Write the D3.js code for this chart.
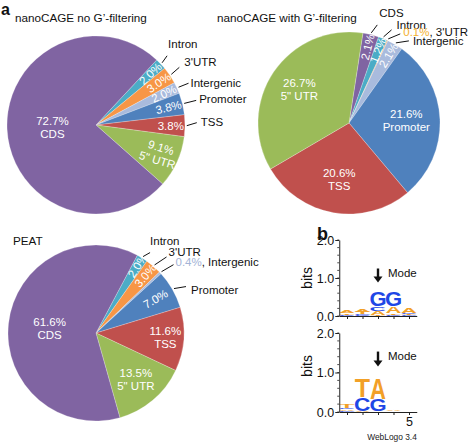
<!DOCTYPE html>
<html><head><meta charset="utf-8">
<script src="https://cdn.jsdelivr.net/npm/d3@7"></script>
<style>
html,body{margin:0;padding:0;background:#fff;}
svg{display:block;font-family:'Liberation Sans',Arial,Helvetica,sans-serif;}
</style></head><body>
<svg id="chart" width="472" height="443"></svg>
<script>
// ---------------- DATA ----------------
const pie1Categories = ["Intron","3'UTR","Intergenic","Promoter","TSS","5\" UTR","CDS"];
const pie1Values     = [2.0, 3.0, 2.0, 3.8, 3.8, 9.1, 72.7];
const pie2Categories = ["CDS","Intron","3'UTR","Intergenic","Promoter","TSS","5\" UTR"];
const pie2Values     = [2.1, 1.2, 0.1, 2.1, 21.6, 20.6, 26.7];
const pie3Categories = ["Intron","3'UTR","Intergenic","Promoter","TSS","5\" UTR","CDS"];
const pie3Values     = [2.0, 3.0, 0.4, 7.0, 11.6, 13.5, 61.6];
const pieTitles = ["nanoCAGE no G\u2019-filtering","nanoCAGE with G\u2019-filtering","PEAT"];

// sequence logos (bits per base, positions 1..5)
const logoPositions = [1,2,3,4,5];
const logo1A = [0.06, 0.07, 0.11, 0.18, 0.12];
const logo1C = [0.02, 0.02, 0.11, 0.03, 0.03];
const logo1G = [0.01, 0.02, 0.38, 0.38, 0.02];
const logo1T = [0.04, 0.06, 0.03, 0.04, 0.02];
const logo2A = [0.04, 0.02, 0.53, 0.02, 0.01];
const logo2C = [0.04, 0.34, 0.01, 0.01, 0.01];
const logo2G = [0.03, 0.01, 0.30, 0.01, 0.01];
const logo2T = [0.08, 0.46, 0.01, 0.01, 0.01];
const yTickValues = [0, 1, 2];
const yTickLabels = ["0.0","1.0","2.0"];
const logo2XTickLabels = ["","","","","5"];

// ---------------- STYLE / LAYOUT ----------------
const colorMap = {"CDS":"#8064a2","Intron":"#4bacc6","3'UTR":"#f79646","Intergenic":"#a9bbdd",
  "Promoter":"#4f81bd","TSS":"#c0504d","5\" UTR":"#9bbb59"};
const baseColor = {A:"#f2a027", T:"#f2a027", G:"#1f47e6", C:"#1f47e6"};
const FONT = "'Liberation Sans', Arial, Helvetica, sans-serif";
const deg = Math.PI/180;
const svg = d3.select('#chart');

const pieLayouts = [
 {cx:96, cy:125, r:89, start:43, tx:15, ty:22, labels:{
   "Intron":{in:'pct', rf:0.84, rot:'radial', out:{ldx:5,ldy:-7,dx:1,dy:-12}},
   "3'UTR":{in:'pct', rf:0.85, rot:'radial', out:{ldx:8,ldy:-7,dx:5,dy:-5}},
   "Intergenic":{in:'pct', rf:0.84, rot:'radial', out:{ldx:10,ldy:-4,dx:2,dy:0}},
   "Promoter":{in:'pct', rf:0.84, rot:'radial', out:{ldx:12,ldy:-3,dx:3,dy:-1}},
   "TSS":{in:'pct', rf:0.84, rot:0, out:{ldx:10,ldy:-3,dx:4,dy:-1}},
   "5\" UTR":{in:'both', rf:0.78, rot:17},
   "CDS":{in:'both', rf:0.49, rot:0}
 }},
 {cx:349, cy:123, r:91, start:8.8, tx:217, ty:22, labels:{
   "CDS":{in:'pct', rf:0.86, rot:'radial', out:{ldx:6,ldy:-8,dx:2,dy:-12}},
   "Intron":{in:'pct', rf:0.86, rot:'radial', out:{ldx:8,ldy:-7,dx:5,dy:-5}},
   "3'UTR":{in:null, out:{ldx:12,ldy:-5,dx:3,dy:-2,pct:true,pctColor:'#f4b02e'}},
   "Intergenic":{in:'pct', rf:0.86, rot:'radial', out:{ldx:13,ldy:-2,dx:4,dy:0}},
   "Promoter":{in:'both', rf:0.63, rot:0},
   "TSS":{in:'both', rf:0.63, rot:0},
   "5\" UTR":{in:'both', rf:0.66, rot:0}
 }},
 {cx:96, cy:333, r:88, start:28, tx:13, ty:245, labels:{
   "Intron":{in:'pct', rf:0.9, rot:'radial', out:{ldx:7,ldy:-4,dx:0,dy:-12}},
   "3'UTR":{in:'pct', rf:0.86, rot:'radial', out:{ldx:12,ldy:-8,dx:2,dy:-5}},
   "Intergenic":{in:null, out:{ldx:12,ldy:-7,dx:2,dy:-3,pct:true,pctColor:'#a3b3d6'}},
   "Promoter":{in:'pct', rf:0.78, rot:'radial', out:{ldx:12,ldy:-2,dx:5,dy:3}},
   "TSS":{in:'both', rf:0.79, rot:0},
   "5\" UTR":{in:'both', rf:0.7, rot:0},
   "CDS":{in:'both', rf:0.53, rot:0}
 }}
];

function drawPie(cats, vals, L, title){
  const g = svg.append('g').attr('transform',`translate(${L.cx},${L.cy})`);
  const data = cats.map((c,i)=>({cat:c, value:vals[i]}));
  const pie = d3.pie().value(d=>d.value).sort(null)
     .startAngle(L.start*deg).endAngle(L.start*deg + 2*Math.PI);
  const arcs = pie(data);
  const arc = d3.arc().innerRadius(0).outerRadius(L.r);
  g.selectAll('path.slice').data(arcs).join('path').attr('class','slice')
    .attr('d',arc).attr('fill',d=>colorMap[d.data.cat])
    .attr('stroke','#ffffff').attr('stroke-width',0.4).attr('stroke-opacity',0.6);
  const fmt = d3.format('.1f');
  arcs.forEach(a=>{
    const lab = L.labels[a.data.cat]; if(!lab) return;
    const mid = (a.startAngle+a.endAngle)/2;
    const pct = fmt(a.data.value)+'%';
    if(lab.in){
      const rr = L.r*lab.rf;
      const x = rr*Math.sin(mid), y = -rr*Math.cos(mid);
      const rot = lab.rot==='radial' ? mid/deg-90 : lab.rot;
      const t = g.append('text').attr('transform',`translate(${x.toFixed(2)},${y.toFixed(2)}) rotate(${rot.toFixed(2)})`)
        .attr('text-anchor','middle').attr('fill','#fff').style('font-size','11.5px').style('font-family',FONT);
      if(lab.in==='pct'){ t.append('tspan').attr('x',0).attr('y',4).text(pct); }
      else {
        t.append('tspan').attr('x',0).attr('y',-2.5).text(pct);
        t.append('tspan').attr('x',0).attr('y',10.5).text(a.data.cat);
      }
    }
    if(lab.out){
      const o = lab.out;
      const r1 = L.r*1.02;
      const x1 = r1*Math.sin(mid), y1 = -r1*Math.cos(mid);
      const x2 = x1+o.ldx, y2 = y1+o.ldy;
      g.append('line').attr('x1',x1).attr('y1',y1).attr('x2',x2).attr('y2',y2)
        .attr('stroke','#111').attr('stroke-width',1);
      const t = g.append('text').attr('x',x2+o.dx).attr('y',y2+o.dy+4)
        .attr('fill','#111').style('font-size','11.5px').style('font-family',FONT);
      if(o.pct){
        t.append('tspan').attr('fill',o.pctColor).text(pct);
        t.append('tspan').text(', '+a.data.cat);
      } else t.text(a.data.cat);
    }
  });
  svg.append('text').attr('x',L.tx).attr('y',L.ty).attr('fill','#111')
    .style('font-size','11.7px').style('font-family',FONT).text(title);
}

drawPie(pie1Categories, pie1Values, pieLayouts[0], pieTitles[0]);
drawPie(pie2Categories, pie2Values, pieLayouts[1], pieTitles[1]);
drawPie(pie3Categories, pie3Values, pieLayouts[2], pieTitles[2]);

// panel letters
svg.append('text').attr('x',1).attr('y',15).style('font-size','16px').style('font-weight','bold').style('font-family',FONT).attr('fill','#111').text('a');
svg.append('text').attr('x',317).attr('y',240).style('font-size','18px').style('font-weight','bold').style('font-family',FONT).attr('fill','#111').text('b');

// ---------------- LOGOS ----------------
const ctx = document.createElement('canvas').getContext('2d');
ctx.font = "bold 100px 'Liberation Sans'";
function glyph(g, ch, x0, y0, w, h, fill){
  if(h < 0.25) return;
  const m = ctx.measureText(ch);
  const Lb = m.actualBoundingBoxLeft, Rb = m.actualBoundingBoxRight;
  const Ab = m.actualBoundingBoxAscent, Db = m.actualBoundingBoxDescent;
  const iw = Lb+Rb, ih = Ab+Db;
  g.append('text')
    .attr('transform',`translate(${x0},${y0}) scale(${w/iw},${h/ih}) translate(${Lb},${Ab})`)
    .style('font-family',"'Liberation Sans'").style('font-weight','bold').style('font-size','100px')
    .attr('fill',fill).text(ch);
}

const logoLayouts = [
  {y0:316, y2:240, arrowTop:1.25, arrowBot:0.88, bitsY:278, showX:false},
  {y0:412, y2:333, arrowTop:1.53, arrowBot:1.15, bitsY:366, showX:true}
];
const logoData = [
  {A:logo1A, C:logo1C, G:logo1G, T:logo1T},
  {A:logo2A, C:logo2C, G:logo2G, T:logo2T}
];

function drawLogo(D, L){
  const g = svg.append('g');
  const x = d3.scaleLinear().domain([0.5,5.5]).range([339.25,416.75]);
  const y = d3.scaleLinear().domain([0,2]).range([L.y0, L.y2]);
  const w = 15;
  logoPositions.forEach((p,i)=>{
    const letters = ['A','C','G','T'].map(b=>({b, h:D[b][i]})).sort((a,b)=>a.h-b.h);
    let acc = 0;
    letters.forEach(l=>{
      const yb = y(acc), yt = y(acc+l.h); acc += l.h;
      glyph(g, l.b, x(p)-w/2, yt, w, yb-yt, baseColor[l.b]);
    });
  });
  // minor ticks
  const minor = d3.range(0,2.0001,0.2);
  g.selectAll('line.minor').data(minor).join('line').attr('class','minor')
    .attr('x1',x(0.5)-2).attr('x2',x(0.5)).attr('y1',d=>y(d)).attr('y2',d=>y(d))
    .attr('stroke','#222').attr('stroke-width',0.8);
  const yAxis = d3.axisLeft(y).tickValues(yTickValues).tickFormat((d,i)=>yTickLabels[i]).tickSize(4).tickSizeOuter(0);
  const ya = g.append('g').attr('transform',`translate(${x(0.5)},0)`).call(yAxis);
  ya.selectAll('text').style('font-size','12.5px').style('font-family',FONT).attr('fill','#111').attr('x',-5);
  ya.selectAll('path,line').attr('stroke','#222');
  const xAxis = d3.axisBottom(x).tickValues(logoPositions)
     .tickFormat((d,i)=> L.showX ? logo2XTickLabels[i] : '').tickSize(3).tickSizeOuter(0);
  const xa = g.append('g').attr('transform',`translate(0,${L.y0})`).call(xAxis);
  xa.selectAll('text').style('font-size','12.5px').style('font-family',FONT).attr('fill','#111').attr('y',5);
  xa.selectAll('path,line').attr('stroke','#222');
  // bits label
  g.append('text').attr('transform',`translate(312,${L.bitsY}) rotate(-90)`).attr('text-anchor','middle')
    .style('font-size','14px').style('font-family',FONT).attr('fill','#111').text('bits');
  // mode arrow
  const ax = x(3), at = y(L.arrowTop), ab = y(L.arrowBot);
  g.append('line').attr('x1',ax).attr('x2',ax).attr('y1',at).attr('y2',ab-5).attr('stroke','#111').attr('stroke-width',2.4);
  g.append('path').attr('d',`M${ax-4.5},${ab-6} L${ax+4.5},${ab-6} L${ax},${ab} Z`).attr('fill','#111');
  g.append('text').attr('x',ax+10).attr('y',(at+ab)/2+1).style('font-size','11.5px').style('font-family',FONT)
    .attr('fill','#111').text('Mode');
}
drawLogo(logoData[0], logoLayouts[0]);
drawLogo(logoData[1], logoLayouts[1]);

svg.append('text').attr('x',392).attr('y',440).attr('text-anchor','middle').style('font-size','8.4px')
  .style('font-family',FONT).attr('fill','#222').text('WebLogo 3.4');
</script>
</body></html>
